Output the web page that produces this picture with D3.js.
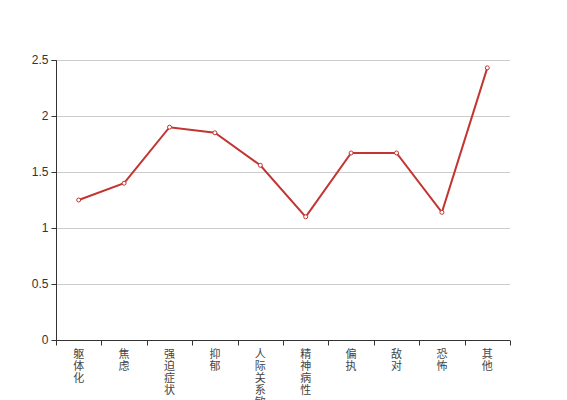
<!DOCTYPE html>
<html>
<head>
<meta charset="utf-8">
<script src="https://cdn.jsdelivr.net/npm/d3@7"></script>
<style>
  body { margin: 0; background: #fff; }
  text { font-family: "Liberation Sans", "Noto Sans CJK SC", sans-serif; }
</style>
</head>
<body>
<svg id="chart" width="567" height="400"></svg>
<script>
const categories = ["躯体化", "焦虑", "强迫症状", "抑郁", "人际关系敏感", "精神病性", "偏执", "敌对", "恐怖", "其他"];
const values = [1.25, 1.40, 1.90, 1.85, 1.56, 1.10, 1.67, 1.67, 1.14, 2.43];
const yTicks = [0, 0.5, 1, 1.5, 2, 2.5];

const svg = d3.select("#chart");
const margin = { left: 56, right: 57, top: 60, bottom: 60 };
const W = 567, H = 400;

const x = d3.scaleBand().domain(categories).range([margin.left, W - margin.right]);
const y = d3.scaleLinear().domain([0, 2.5]).range([H - margin.bottom, margin.top]);

// gridlines
svg.append("g").selectAll("line").data(yTicks.filter(d => d > 0)).join("line")
  .attr("x1", margin.left).attr("x2", W - margin.right)
  .attr("y1", d => y(d) + 0.5).attr("y2", d => y(d) + 0.5)
  .attr("stroke", "#ccc").attr("stroke-width", 1);

// y axis
const yAxis = svg.append("g").attr("transform", `translate(${margin.left + 0.5},0)`)
  .call(d3.axisLeft(y).tickValues(yTicks).tickSize(5).tickPadding(3).tickFormat(d => d3.format("")(d)));
yAxis.select(".domain").attr("stroke", "#333").attr("d", `M-5,${y(2.5)+0.5}H0V${y(0)+0.5}`);
yAxis.selectAll(".tick line").attr("stroke", "#333");
yAxis.selectAll(".tick text").attr("fill", "#333").style("font-size", "12px");

// x axis
const xAxis = svg.append("g").attr("transform", `translate(0,${y(0) + 0.5})`);
xAxis.append("line").attr("x1", margin.left).attr("x2", W - margin.right)
  .attr("y1", 0).attr("y2", 0).attr("stroke", "#333");
const bounds = categories.map(c => x(c)).concat([x(categories[categories.length - 1]) + x.bandwidth()]);
xAxis.selectAll("line.tk").data(bounds).join("line").attr("class", "tk")
  .attr("x1", d => Math.round(d) + 0.5).attr("x2", d => Math.round(d) + 0.5)
  .attr("y1", 0).attr("y2", 5).attr("stroke", "#333");
const lbl = xAxis.selectAll("text.lbl").data(categories).join("text").attr("class", "lbl")
  .attr("x", d => x(d) + x.bandwidth() / 2)
  .attr("text-anchor", "middle")
  .attr("fill", "#444")
  .style("font-size", "11px");
lbl.each(function(d) {
  const t = d3.select(this);
  Array.from(d).forEach((ch, i) => {
    t.append("tspan").attr("x", x(d) + x.bandwidth() / 2).attr("y", 17 + i * 12).text(ch);
  });
});

// line
const line = d3.line().x((d, i) => x(categories[i]) + x.bandwidth() / 2).y(d => y(d));
svg.append("path").datum(values).attr("d", line)
  .attr("fill", "none").attr("stroke", "#c23531").attr("stroke-width", 2);
svg.append("g").selectAll("circle").data(values).join("circle")
  .attr("cx", (d, i) => x(categories[i]) + x.bandwidth() / 2)
  .attr("cy", d => y(d)).attr("r", 2)
  .attr("fill", "#fff").attr("stroke", "#c23531").attr("stroke-width", 1);
</script>
</body>
</html>
